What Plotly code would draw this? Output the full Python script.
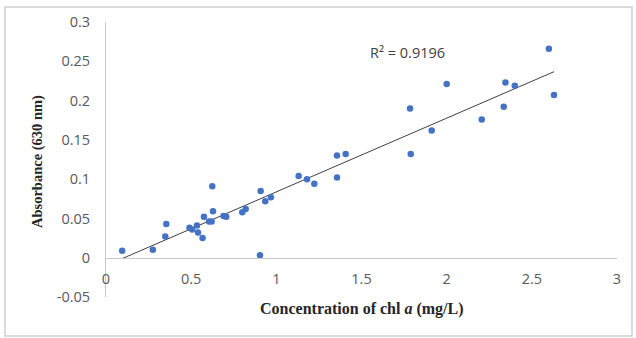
import numpy as np
import plotly.graph_objects as go

# Data
conc = [0.095, 0.275, 0.348, 0.354, 0.49, 0.506, 0.534, 0.54, 0.567, 0.575,
        0.605, 0.62, 0.628, 0.624, 0.69, 0.706, 0.80, 0.82, 0.908, 0.904,
        0.935, 0.968, 1.131, 1.18, 1.223, 1.356, 1.407, 1.356, 1.785, 1.789,
        1.912, 2.0, 2.206, 2.345, 2.335, 2.40, 2.60, 2.63]
absorb = [0.009, 0.010, 0.027, 0.043, 0.038, 0.036, 0.041, 0.032, 0.025, 0.052,
          0.046, 0.046, 0.059, 0.091, 0.053, 0.052, 0.058, 0.062, 0.085, 0.003,
          0.072, 0.077, 0.104, 0.100, 0.094, 0.130, 0.132, 0.102, 0.190, 0.132,
          0.162, 0.221, 0.176, 0.223, 0.192, 0.219, 0.266, 0.207]
x_ticks = [0, 0.5, 1, 1.5, 2, 2.5, 3]
y_ticks = [-0.05, 0, 0.05, 0.1, 0.15, 0.2, 0.25, 0.3]
r2_label = "R² = 0.9196"

xr = [0, 3]
yr = [-0.05, 0.3]

# Linear trendline fitted from the data
slope, intercept = np.polyfit(conc, absorb, 1)
fit_x = [min(conc), max(conc)]
fit_y = [slope * v + intercept for v in fit_x]

W, H = 636, 338
L, R, T, B = 106, 19, 22, 41
pw, ph = W - L - R, H - T - B

def px_x(p):
    return (p - L) / pw

def px_y(p):
    return (H - B - p) / ph

fig = go.Figure()
fig.add_trace(go.Scatter(x=fit_x, y=fit_y, mode="lines",
                         line=dict(color="#404040", width=1), hoverinfo="skip",
                         showlegend=False))
fig.add_trace(go.Scatter(x=conc, y=absorb, mode="markers",
                         marker=dict(color="#4472C4", size=6.5),
                         showlegend=False))

tick_font = dict(family="Open Sans", size=14.5, color="#595959")
fig.update_layout(
    width=W, height=H,
    margin=dict(l=L, r=R, t=T, b=B, pad=0),
    paper_bgcolor="white", plot_bgcolor="white",
    xaxis=dict(range=xr, tickvals=x_ticks, ticktext=[f"{v:g}" for v in x_ticks],
               showgrid=False, zeroline=False, showline=True,
               linecolor="#C8C8C8", linewidth=1,
               anchor="free", position=(0 - yr[0]) / (yr[1] - yr[0]),
               ticks="", ticklabelstandoff=8, tickfont=tick_font),
    yaxis=dict(range=yr, tickvals=y_ticks, ticktext=[f"{v:g}" for v in y_ticks],
               showgrid=False, zeroline=False, showline=True,
               linecolor="#C8C8C8", linewidth=1,
               ticks="", ticklabelstandoff=12, tickfont=tick_font),
    shapes=[dict(type="rect", xref="paper", yref="paper",
                 x0=px_x(5), x1=px_x(632), y0=px_y(336), y1=px_y(7),
                 line=dict(color="#D0D0D0", width=1.5))],
    annotations=[
        dict(text=r2_label, x=px_x(368), y=px_y(53), xref="paper", yref="paper",
             xanchor="left", yanchor="middle", showarrow=False,
             font=dict(family="Open Sans", size=14.5, color="#404040")),
        dict(text="Concentration of chl <i>a</i> (mg/L)", x=px_x(362), y=px_y(309),
             xref="paper", yref="paper", xanchor="center", yanchor="middle",
             showarrow=False,
             font=dict(family="Liberation Serif", size=16, color="#262626",
                       weight="bold")),
        dict(text="Absorbance (630 nm)", x=px_x(38), y=px_y(162),
             xref="paper", yref="paper", xanchor="center", yanchor="middle",
             textangle=-90, showarrow=False,
             font=dict(family="Liberation Serif", size=14.5, color="#262626",
                       weight="bold")),
    ],
)

fig.write_html("out.html")
